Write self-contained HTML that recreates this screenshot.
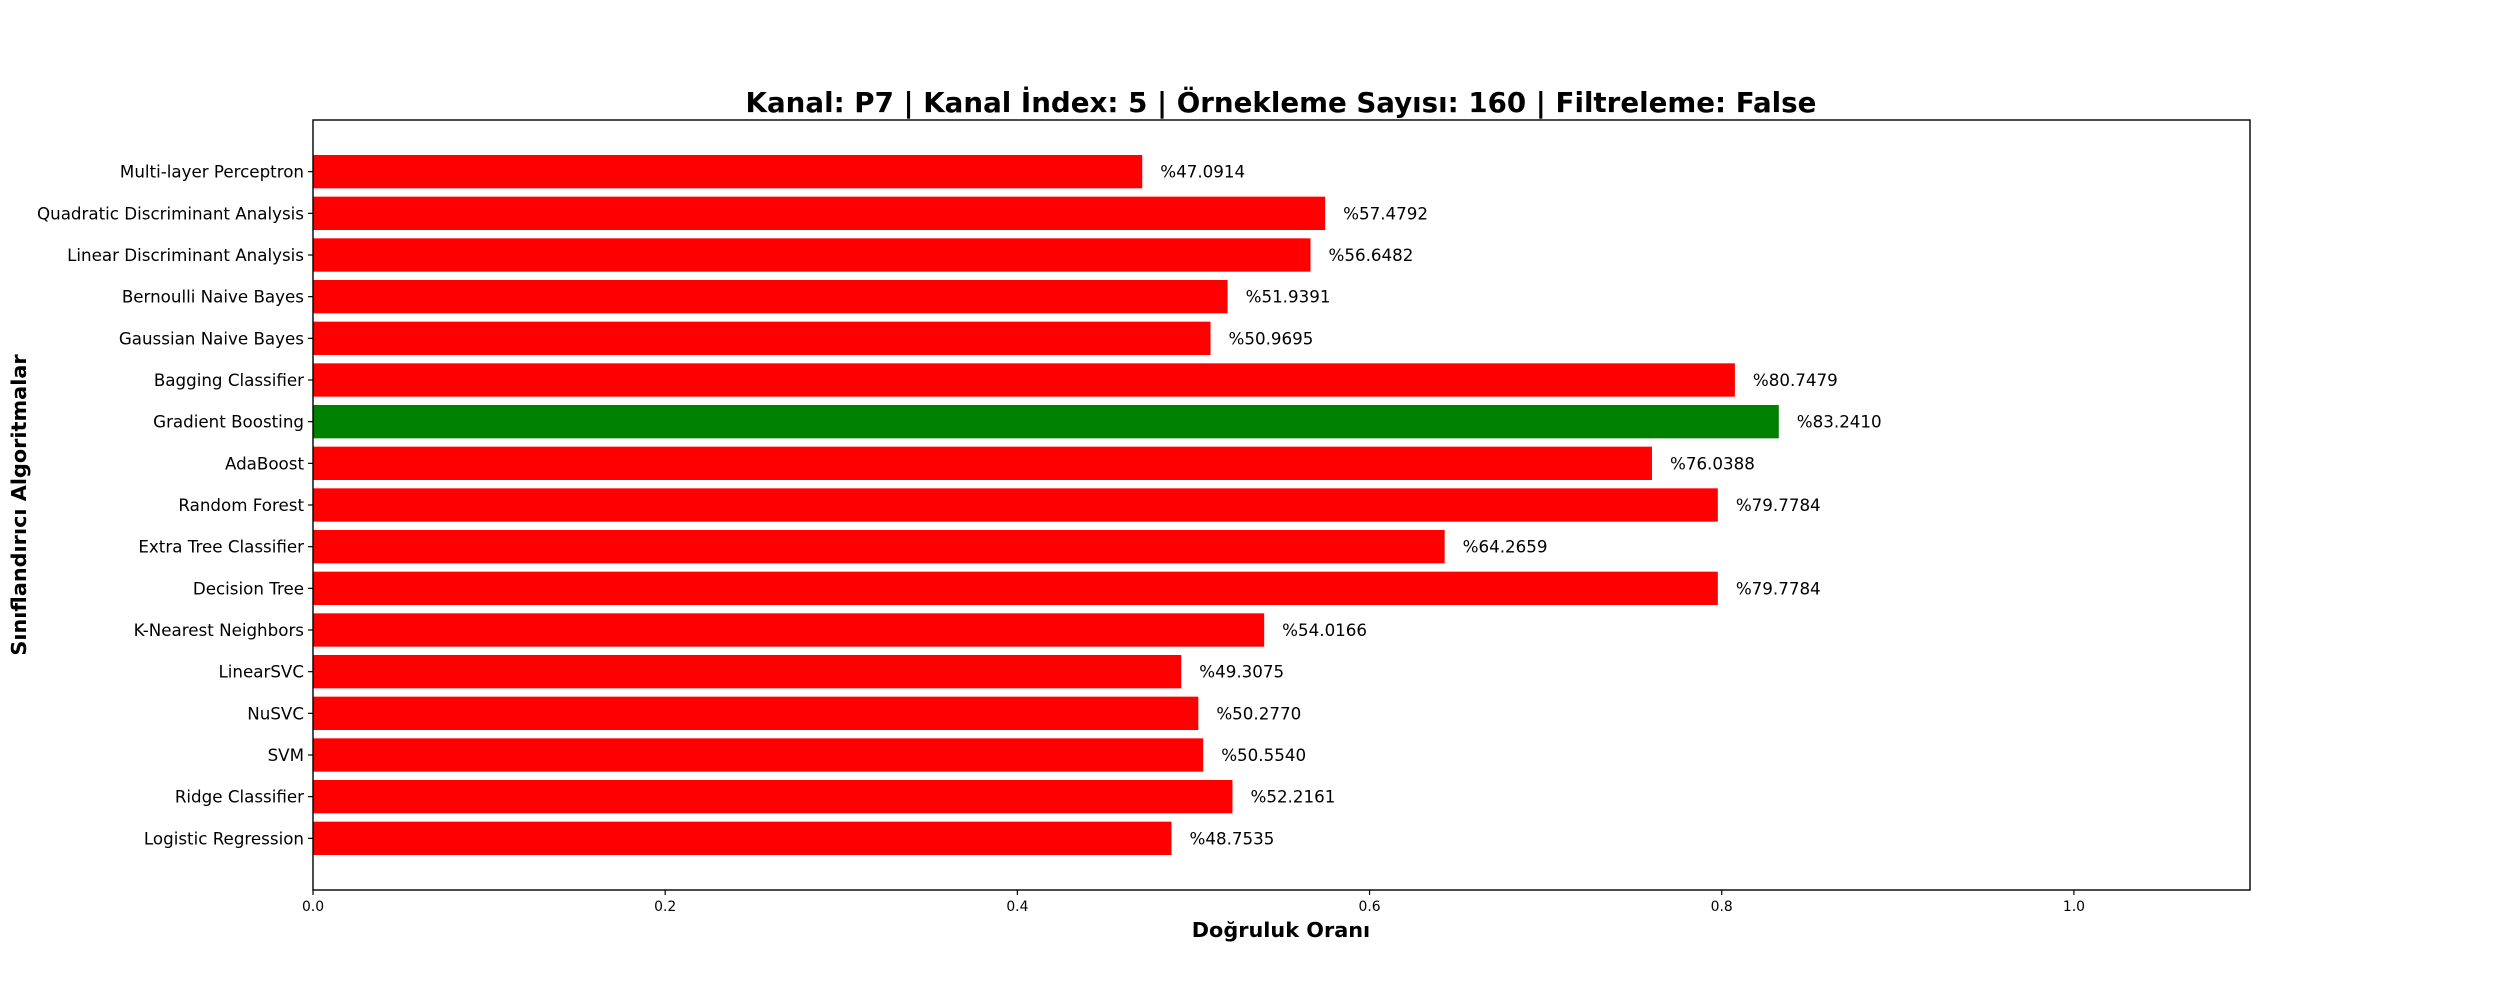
<!DOCTYPE html>
<html>
<head>
<meta charset="utf-8">
<style>
  html, body { margin: 0; padding: 0; background: #fff; }
  svg { display: block; font-family: "DejaVu Sans", "Liberation Sans", sans-serif; }
</style>
</head>
<body>
<svg id="chart" width="2500" height="1000" viewBox="0 0 2500 1000" xmlns="http://www.w3.org/2000/svg">
  <rect x="0" y="0" width="2500" height="1000" fill="#fff"/>
  <text x="1281" y="112" font-size="27.7" font-weight="bold" text-anchor="middle">Kanal: P7 | Kanal İndex: 5 | Örnekleme Sayısı: 160 | Filtreleme: False</text>
  <g id="bars"></g>
  <g id="yticks"></g>
  <g id="xticks"></g>
  <g id="labels"></g>
  <rect x="313" y="120" width="1937" height="770" fill="none" stroke="#000" stroke-width="1.4"/>
  <text x="1281" y="937" font-size="20.8" font-weight="bold" text-anchor="middle">Doğruluk Oranı</text>
  <text transform="translate(26,505) rotate(-90)" font-size="20.8" font-weight="bold" text-anchor="middle">Sınıflandırıcı Algoritmalar</text>
</svg>
<script>
const categories = ["Logistic Regression","Ridge Classifier","SVM","NuSVC","LinearSVC","K-Nearest Neighbors","Decision Tree","Extra Tree Classifier","Random Forest","AdaBoost","Gradient Boosting","Bagging Classifier","Gaussian Naive Bayes","Bernoulli Naive Bayes","Linear Discriminant Analysis","Quadratic Discriminant Analysis","Multi-layer Perceptron"];
const accuracies = [0.487535,0.522161,0.505540,0.502770,0.493075,0.540166,0.797784,0.642659,0.797784,0.760388,0.832410,0.807479,0.509695,0.519391,0.566482,0.574792,0.470914];
const valueLabels = ["%48.7535","%52.2161","%50.5540","%50.2770","%49.3075","%54.0166","%79.7784","%64.2659","%79.7784","%76.0388","%83.2410","%80.7479","%50.9695","%51.9391","%56.6482","%57.4792","%47.0914"];
const xTicks = [0, 0.2, 0.4, 0.6, 0.8, 1.0];
const xTickLabels = ["0.0","0.2","0.4","0.6","0.8","1.0"];

const NS = "http://www.w3.org/2000/svg";
const L = 313, R = 2250, T = 120, B = 890;
const xMax = 1.1;
const yMin = -1.24, yMax = 17.24;
function xs(v) { return L + (v / xMax) * (R - L); }
function ys(i) { return B - (i - yMin) / (yMax - yMin) * (B - T); }
const bandUnit = (B - T) / (yMax - yMin);
const barH = 0.8 * bandUnit;
const maxVal = Math.max(...accuracies);

function mk(tag, attrs) {
  const e = document.createElementNS(NS, tag);
  for (const k in attrs) e.setAttribute(k, attrs[k]);
  return e;
}
const gBars = document.getElementById("bars");
const gY = document.getElementById("yticks");
const gX = document.getElementById("xticks");
const gL = document.getElementById("labels");

categories.forEach((c, i) => {
  const cy = ys(i);
  const v = accuracies[i];
  const r = mk("rect", {x: xs(0), y: cy - barH / 2, width: xs(v) - xs(0), height: barH, fill: v === maxVal ? "#008000" : "#ff0000"});
  
  
  gBars.appendChild(r);

  const tk = mk("line", {x1: L - 5, x2: L, y1: cy, y2: cy, stroke: "#000", "stroke-width": 1.2});
  
  
  gY.appendChild(tk);

  const t = mk("text", {x: L - 9, y: cy + 6, "font-size": 16.7, "text-anchor": "end"});
  
  
  t.textContent = c;
  gY.appendChild(t);

  const vl = mk("text", {x: xs(v) + 18, y: cy + 6, "font-size": 16.7});
  
  
  vl.textContent = valueLabels[i];
  gL.appendChild(vl);
});

xTicks.forEach((v, i) => {
  const x = xs(v);
  const tk = mk("line", {x1: x, x2: x, y1: B, y2: B + 5, stroke: "#000", "stroke-width": 1.2});
  
  
  gX.appendChild(tk);
  const t = mk("text", {x: x, y: B + 21, "font-size": 13.9, "text-anchor": "middle"});
  
  
  t.textContent = xTickLabels[i];
  gX.appendChild(t);
});
</script>
</body>
</html>
